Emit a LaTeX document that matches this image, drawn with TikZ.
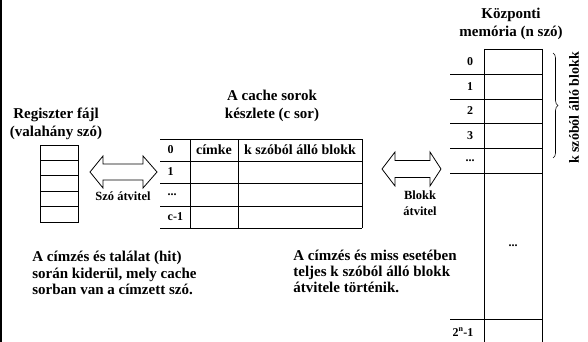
\documentclass[tikz,border=0pt]{standalone}
\usepackage{fontspec}
\setmainfont{Liberation Serif}
\usepackage{tikz}
\usetikzlibrary{decorations.pathreplacing}

\tikzset{
    title text/.style = {font = \bfseries\fontsize{15}{17.5}\selectfont, align = center},
    cell text/.style = {font = \bfseries\fontsize{14}{16}\selectfont},
    row text/.style = {font = \bfseries\fontsize{12}{14}\selectfont},
    arrow text/.style = {font = \bfseries\fontsize{12.5}{16}\selectfont, align = center},
    note text/.style = {font = \bfseries\fontsize{15}{16.3}\selectfont, align = left, anchor = west, inner sep = 0pt},
}

\begin{document}
\begin{tikzpicture}[x = 1pt, y = -1pt, line width = 0.8pt]
    \useasboundingbox (0, 0) rectangle (588, 342);
    \fill (0, 0) rectangle (2, 342);

    \node [title text] (regtitle) at (56, 124) {Regiszter fájl\\(valahány szó)};
    \draw (40, 145) rectangle (78, 222);
    \foreach \y in {160.4, 175.8, 191.2, 206.6}
        \draw (40, \y) -- (78, \y);

    \draw (90, 172) -- (103, 156) -- (103, 164) -- (143, 164) -- (143, 156) -- (157, 172)
        -- (143, 188) -- (143, 180) -- (103, 180) -- (103, 188) -- cycle;
    \node [arrow text] (wordmove) at (123, 196) {Szó átvitel};

    \node [title text] (cachetitle) at (272, 106) {A cache sorok\\készlete (c sor)};
    \foreach \y in {139, 161, 183, 206, 228}
        \draw (160, \y) -- (362, \y);
    \foreach \x in {190, 238, 362}
        \draw (\x, 139) -- (\x, 228);
    \node [row text, anchor = west] (row0) at (164, 150) {0};
    \node [row text, anchor = west] (row1) at (164, 172) {1};
    \node [row text, anchor = west] (rowdots) at (164, 194.5) {...};
    \node [row text, anchor = west] (rowlast) at (164, 217) {c-1};
    \node [cell text] (tag) at (214, 150) {címke};
    \node [cell text] (block) at (300, 150) {k szóból álló blokk};

    \draw (382, 169) -- (395, 152) -- (395, 160.5) -- (430, 160.5) -- (430, 152) -- (441, 169)
        -- (430, 186) -- (430, 177.5) -- (395, 177.5) -- (395, 186) -- cycle;
    \node [arrow text] (blockmove) at (420, 203) {Blokk\\átvitel};

    \node [title text] (memtitle) at (511, 24) {Központi\\memória (n szó)};
    \draw (484, 49) -- (542, 49);
    \draw (484, 49) -- (484, 345);
    \draw (542, 49) -- (542, 345);
    \foreach \y in {74, 99, 123, 148, 173, 319}
        \draw (450, \y) -- (542, \y);
    \foreach \lab/\y [count = \i] in {0/61.5, 1/86.5, 2/111, 3/135.5}
        \node [row text] (mem\i) at (470, \y) {\lab};
    \node [row text] (memrowdots) at (470, 160.5) {...};
    \node [row text] (memdots) at (513, 246) {...};
    \node [row text] (memlast) at (463, 332) {2\textsuperscript{n}-1};

    \draw [line width = 0.6pt, decorate, decoration = {brace, amplitude = 5pt}] (553, 53) -- (553, 158);
    \node [cell text, rotate = 90] (blocksize) at (574, 108) {k szóból álló blokk};

    \node [note text] (hitnote) at (32, 273) {A címzés és találat (hit)\\során kiderül, mely cache\\sorban van a címzett szó.};
    \node [note text] (missnote) at (293, 271.5) {A címzés és miss esetében\\teljes k szóból álló blokk\\átvitele történik.};
\end{tikzpicture}
\end{document}
